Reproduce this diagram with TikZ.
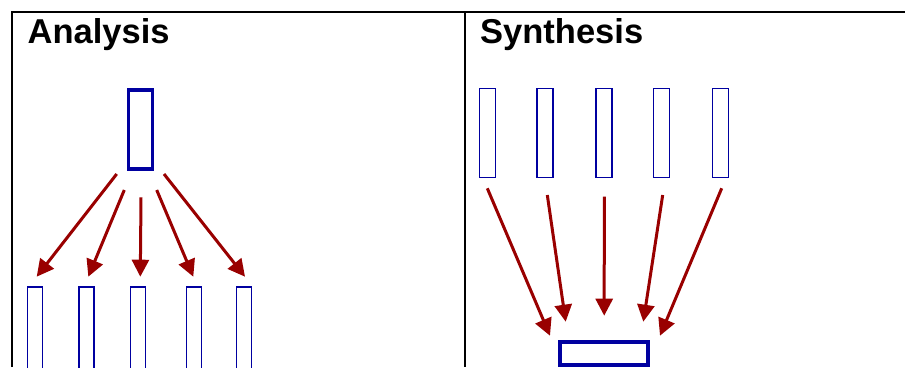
\documentclass[tikz,border=0pt]{standalone}
\usepackage{fontspec}
\setmainfont{Liberation Sans}
\usetikzlibrary{arrows.meta}
\usetikzlibrary{calc}

\definecolor{boxblue}{RGB}{0,0,160}
\definecolor{arrowred}{RGB}{153,0,0}

\begin{document}
\begin{tikzpicture}[x=1pt, y=-1pt,
  title/.style={inner sep=0pt, anchor=base west, font=\fontsize{34.5}{40}\selectfont\bfseries},
  part/.style={draw=boxblue, line width=1.2pt, rectangle, inner sep=0pt, outer sep=0pt},
  whole/.style={draw=boxblue, line width=3.5pt, rectangle, inner sep=0pt, outer sep=0pt},
  arr/.style={draw=arrowred, fill=arrowred, line width=3pt, -{Triangle[length=17pt, width=17pt]}}]

\useasboundingbox (0,0) rectangle (905,367);

\draw[line width=2pt] (12,367) -- (12,12) -- (905,12);
\draw[line width=2pt] (465,12) -- (465,367);

\node[title] (TA) at (27.5,43.5) {Analysis};
\node[title] (TS) at (480,43.5) {Synthesis};

\node[whole, minimum width=24pt, minimum height=79pt] (AW) at (140.5,129.7) {};
\node[part, minimum width=15pt, minimum height=85pt] (A1) at (35.2,329.5) {};
\node[part, minimum width=15pt, minimum height=85pt] (A2) at (86.4,329.5) {};
\node[part, minimum width=15pt, minimum height=85pt] (A3) at (137.7,329.5) {};
\node[part, minimum width=15pt, minimum height=85pt] (A4) at (194.2,329.5) {};
\node[part, minimum width=15pt, minimum height=85pt] (A5) at (244,329.5) {};

\draw[arr] ($(AW.south)+(-23.8,4.8)$) -- ($(A1.north)+(1.5,-10.3)$);
\draw[arr] ($(AW.south)+(-16.2,20.8)$) -- ($(A2.north)+(1.9,-10.3)$);
\draw[arr] ($(AW.south)+(0.5,28.1)$) -- ($(A3.north)+(2.6,-10.3)$);
\draw[arr] ($(AW.south)+(16.2,20.8)$) -- ($(A4.north)+(-0.9,-10.3)$);
\draw[arr] ($(AW.south)+(23.5,4.8)$) -- ($(A5.north)+(1,-10.3)$);

\node[part, minimum width=16pt, minimum height=89pt] (S1) at (487.3,133) {};
\node[part, minimum width=16pt, minimum height=89pt] (S2) at (545,133) {};
\node[part, minimum width=16pt, minimum height=89pt] (S3) at (604,133) {};
\node[part, minimum width=16pt, minimum height=89pt] (S4) at (661.7,133) {};
\node[part, minimum width=16pt, minimum height=89pt] (S5) at (720.8,133) {};
\node[whole, minimum width=88pt, minimum height=23pt] (SW) at (604.2,353.3) {};

\draw[arr] ($(S1.south)+(0,10.8)$) -- ($(SW.north)+(-54.2,-6.1)$);
\draw[arr] ($(S2.south)+(2.3,17.5)$) -- ($(SW.north)+(-38.5,-20.1)$);
\draw[arr] ($(S3.south)+(0.3,19.2)$) -- ($(SW.north)+(0,-26.1)$);
\draw[arr] ($(S4.south)+(1,17.5)$) -- ($(SW.north)+(39.1,-20.1)$);
\draw[arr] ($(S5.south)+(0.9,10.8)$) -- ($(SW.north)+(55.8,-6.1)$);

\end{tikzpicture}
\end{document}
